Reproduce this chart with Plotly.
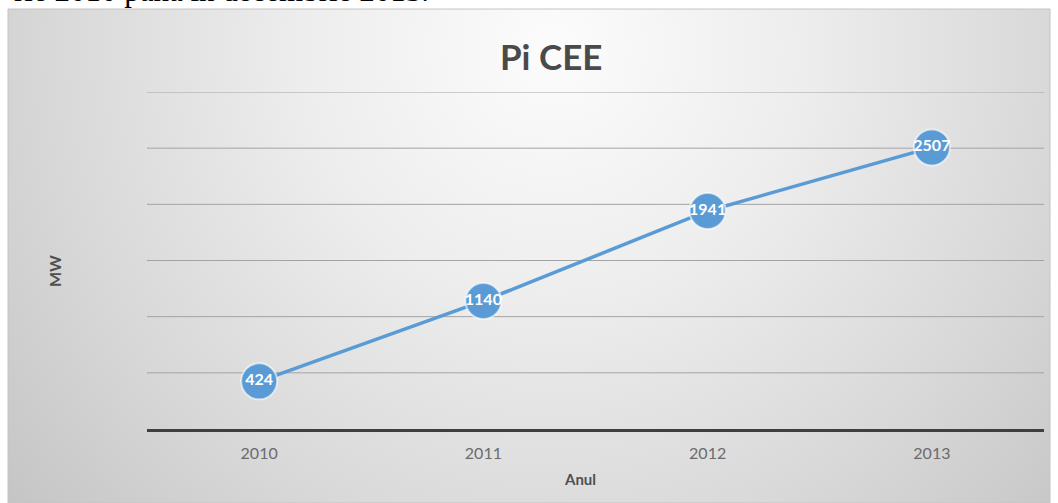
import base64
import plotly.graph_objects as go

# Installed wind capacity (MW) per year
years = ["2010", "2011", "2012", "2013"]
capacity_mw = [424, 1140, 1941, 2507]
grid_values = [500, 1000, 1500, 2000, 2500, 3000]

chart_title = "Pi CEE"
x_title = "Anul"
y_title = "MW"
caption_tail = "rie 2010 până în decembrie 2013."

W, H = 1058, 503
L, R, T, B = 147, 14, 92, 74
PW, PH = W - L - R, H - T - B


def px_x(px):
    return (px - L) / PW


def px_y(py):
    return (H - B - py) / PH


# soft radial backdrop for the chart frame
frame_w, frame_h = 1042, 494
svg = f"""<svg xmlns='http://www.w3.org/2000/svg' width='{frame_w}' height='{frame_h}' viewBox='0 0 {frame_w} {frame_h}' preserveAspectRatio='none'>
<defs><radialGradient id='g' gradientUnits='userSpaceOnUse' cx='545' cy='40' r='720'>
<stop offset='0' stop-color='#fcfcfc'/>
<stop offset='0.35' stop-color='#ededed'/>
<stop offset='0.7' stop-color='#d8d8d8'/>
<stop offset='1' stop-color='#c4c4c4'/>
</radialGradient></defs>
<rect x='0' y='0' width='{frame_w}' height='{frame_h}' fill='url(#g)'/>
</svg>"""
bg_src = "data:image/svg+xml;base64," + base64.b64encode(svg.encode()).decode()

blue = "#5B9BD5"
grid_color = "#a3a3a3"
font_ui = "Lato, 'Open Sans', sans-serif"

fig = go.Figure()
fig.add_trace(go.Scatter(
    x=years,
    y=capacity_mw,
    mode="lines+markers+text",
    line=dict(color=blue, width=3.5),
    marker=dict(size=36, color=blue, line=dict(color="rgba(255,255,255,0.6)", width=2)),
    text=[str(v) for v in capacity_mw],
    textposition="middle center",
    textfont=dict(family=font_ui, size=16, color="white", weight="bold"),
    cliponaxis=False,
    hoverinfo="skip",
))

# horizontal gridlines drawn as shapes so the top one at the range edge is kept
grid_shapes = [
    dict(type="line", xref="paper", yref="y", x0=0, x1=1, y0=v, y1=v,
         line=dict(color=grid_color, width=1), layer="below")
    for v in grid_values
]

fig.update_layout(
    width=W,
    height=H,
    margin=dict(l=L, r=R, t=T, b=B),
    paper_bgcolor="white",
    plot_bgcolor="rgba(0,0,0,0)",
    showlegend=False,
    images=[dict(
        source=bg_src, xref="paper", yref="paper",
        x=px_x(8), y=px_y(9), sizex=px_x(1050) - px_x(8), sizey=px_y(9) - px_y(503),
        xanchor="left", yanchor="top", sizing="stretch", layer="below",
    )],
    shapes=[dict(
        type="rect", xref="paper", yref="paper",
        x0=px_x(8), x1=px_x(1050), y0=px_y(503), y1=px_y(9),
        line=dict(color="#c4c4c4", width=1), layer="below",
    )] + grid_shapes,
    xaxis=dict(
        type="category",
        range=[-0.5, 3.5],
        showline=True, linecolor="#3f3f3f", linewidth=2.5,
        showgrid=False, zeroline=False,
        ticks="outside", ticklen=8, tickcolor="rgba(0,0,0,0)",
        tickfont=dict(family=font_ui, size=16, color="#6b6b6b"),
    ),
    yaxis=dict(
        range=[0, 3000],
        showticklabels=False, showgrid=False, zeroline=False,
    ),
    annotations=[
        dict(text=chart_title, xref="paper", yref="paper", x=px_x(551), y=px_y(56),
             xanchor="center", yanchor="middle", showarrow=False,
             font=dict(family=font_ui, size=35, color="#4a4a4a", weight="bold")),
        dict(text=y_title, xref="paper", yref="paper", x=px_x(54), y=px_y(271),
             xanchor="center", yanchor="middle", showarrow=False, textangle=-90,
             font=dict(family=font_ui, size=16, color="#505050", weight="bold")),
        dict(text=x_title, xref="paper", yref="paper", x=px_x(580), y=px_y(479),
             xanchor="center", yanchor="middle", showarrow=False,
             font=dict(family=font_ui, size=15, color="#505050", weight="bold")),
        dict(text=caption_tail, xref="paper", yref="paper", x=px_x(431), y=px_y(-9),
             xanchor="right", yanchor="middle", showarrow=False,
             font=dict(family="'Liberation Serif', 'Times New Roman', serif", size=31, color="black")),
    ],
)

fig.write_html("out.html")
